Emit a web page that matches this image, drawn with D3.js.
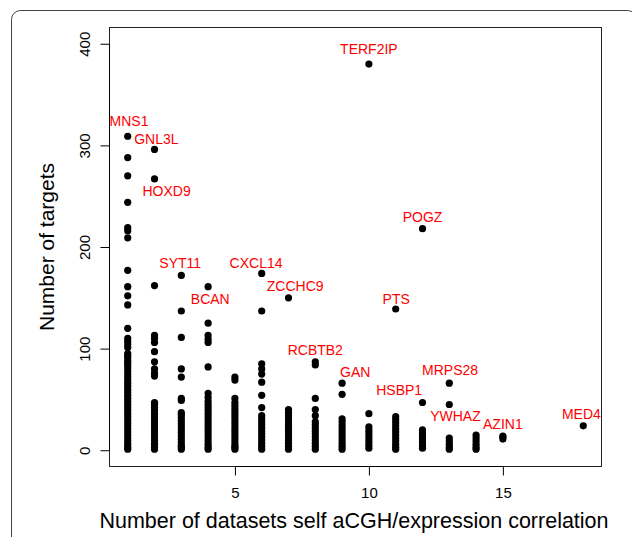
<!DOCTYPE html>
<html>
<head>
<meta charset="utf-8">
<script src="https://cdn.jsdelivr.net/npm/d3@7"></script>
<style>
  body { margin: 0; background: #fff; }
  svg { display: block; }
</style>
</head>
<body>
<svg id="chart" width="632" height="537"></svg>
<script>
// number of datasets with self aCGH/expression correlation (x columns)
var datasetCounts = [1, 2, 3, 4, 5, 6, 7, 8, 9, 10, 11, 12, 13, 14, 15, 18];

// number of targets per gene, one list for each column above
var targetCounts = [
    [309, 288, 270, 244, 219, 216, 209, 177, 161, 152, 143, 120, 110, 107, 104, 101,
     95, 93, 91, 88, 86, 84, 81, 78, 75, 72, 69, 66, 63, 60, 57, 54, 51, 48, 45, 42,
     39, 36, 33, 30, 27, 24, 21, 18, 15, 12, 9, 6, 3, 1],
    [296, 267, 162, 113, 110, 106, 97, 87, 80, 76, 73,
     47, 45, 42, 39, 36, 33, 30, 27, 24, 21, 18, 15, 12, 9, 6, 3, 1],
    [172, 137, 111, 80, 72, 51, 49,
     37, 35, 32, 29, 26, 23, 20, 17, 14, 11, 8, 5, 3, 1],
    [161, 125, 113, 109, 106, 82, 56, 52,
     48, 45, 42, 39, 36, 33, 30, 27, 24, 21, 18, 15, 12, 9, 6, 3, 1],
    [72, 69,
     51, 47, 44, 41, 38, 35, 32, 29, 26, 23, 20, 17, 14, 11, 8, 5, 3, 1],
    [174, 137, 85, 80, 75, 67, 54, 42,
     34, 31, 28, 25, 22, 19, 16, 13, 10, 7, 4, 1],
    [150,
     40, 37, 34, 31, 28, 25, 22, 19, 16, 13, 10, 7, 4, 1],
    [87, 84, 51, 40, 34,
     28, 25, 22, 19, 16, 13, 10, 7, 4, 1],
    [66, 55,
     31, 28, 25, 22, 19, 16, 13, 10, 7, 4, 1],
    [380, 36,
     23, 20, 17, 14, 11, 8, 5, 2],
    [139,
     33, 30, 27, 24, 21, 18, 15, 12, 9, 6, 3, 1],
    [218, 47,
     20, 17, 14, 11, 8, 5, 2],
    [66, 45,
     12, 9, 6, 3, 1],
    [15, 12, 9, 6, 3, 1],
    [14, 13, 11],
    [24]
];

// gene labels, placed in data units like text(x, y, label)
var geneNames = ["TERF2IP", "MNS1", "GNL3L", "HOXD9", "POGZ", "SYT11", "CXCL14", "ZCCHC9",
                 "BCAN", "PTS", "RCBTB2", "GAN", "MRPS28", "HSBP1", "YWHAZ", "AZIN1", "MED4"];
var geneLabelX = [10.0, 1.05, 2.07, 2.45, 12.0, 2.96, 5.79, 7.25,
                  4.08, 11.02, 8.0, 9.49, 13.03, 11.13, 13.23, 15.0, 17.93];
var geneLabelY = [395, 324, 306, 255, 230, 184, 184, 162,
                  149, 149, 99, 77, 79, 59, 34, 26, 36];

var xTicks = [5, 10, 15];
var yTicks = [0, 100, 200, 300, 400];

var svg = d3.select("#chart");
var font = "'Liberation Sans', Arial, Helvetica, sans-serif";

// plot region (R style, 4% padding on the x range)
var plotLeft = 109.5, plotRight = 601.5, plotTop = 27.5, plotBottom = 466.5;

var x = d3.scaleLinear()
    .domain([0.32, 18.68])
    .range([plotLeft, plotRight]);

var y = d3.scaleLinear()
    .domain([-16, 416])
    .range([plotBottom, plotTop]);

// outer rounded frame of the figure panel
svg.append("rect")
    .attr("x", 11.5)
    .attr("y", 10.5)
    .attr("width", 625)
    .attr("height", 600)
    .attr("rx", 9)
    .attr("fill", "none")
    .attr("stroke", "#444")
    .attr("stroke-width", 1);

// flatten the columns into points
var points = [];
datasetCounts.forEach(function(n, i) {
    targetCounts[i].forEach(function(t) {
        points.push({ n: n, t: t });
    });
});

svg.append("g")
    .selectAll("circle")
    .data(points)
    .enter()
    .append("circle")
    .attr("cx", function(d) { return x(d.n); })
    .attr("cy", function(d) { return y(d.t); })
    .attr("r", 3.6)
    .attr("fill", "black");

// plot box
svg.append("rect")
    .attr("x", plotLeft)
    .attr("y", plotTop)
    .attr("width", plotRight - plotLeft)
    .attr("height", plotBottom - plotTop)
    .attr("fill", "none")
    .attr("stroke", "#222")
    .attr("stroke-width", 1);

// x axis
var xAxis = svg.append("g")
    .attr("transform", "translate(0," + plotBottom + ")")
    .call(d3.axisBottom(x).tickValues(xTicks).tickSize(9).tickPadding(12));

xAxis.select(".domain").remove();
xAxis.append("line")
    .attr("x1", x(xTicks[0]))
    .attr("x2", x(xTicks[xTicks.length - 1]))
    .attr("stroke", "black");
xAxis.selectAll("text")
    .attr("font-size", "15px")
    .attr("font-family", font)
    .attr("fill", "black");

// y axis, labels turned like R's default
var yAxis = svg.append("g")
    .attr("transform", "translate(" + plotLeft + ",0)")
    .call(d3.axisLeft(y).tickValues(yTicks).tickSize(9));

yAxis.select(".domain").remove();
yAxis.append("line")
    .attr("y1", y(yTicks[0]))
    .attr("y2", y(yTicks[yTicks.length - 1]))
    .attr("stroke", "black");
yAxis.selectAll("text")
    .attr("x", null)
    .attr("dy", null)
    .attr("transform", "translate(-19.5,0) rotate(-90)")
    .attr("text-anchor", "middle")
    .attr("font-size", "15px")
    .attr("font-family", font)
    .attr("fill", "black");

// gene labels
svg.append("g")
    .selectAll("text")
    .data(geneNames)
    .enter()
    .append("text")
    .attr("x", function(d, i) { return x(geneLabelX[i]); })
    .attr("y", function(d, i) { return y(geneLabelY[i]); })
    .attr("dy", "0.36em")
    .attr("text-anchor", "middle")
    .attr("font-family", font)
    .attr("font-size", "14px")
    .attr("fill", "#ff0000")
    .text(function(d) { return d; });

// axis titles
svg.append("text")
    .attr("x", 354)
    .attr("y", 528)
    .attr("text-anchor", "middle")
    .attr("font-family", font)
    .attr("font-size", "21.5px")
    .text("Number of datasets self aCGH/expression correlation");

svg.append("text")
    .attr("transform", "translate(54," + y(200) + ") rotate(-90)")
    .attr("text-anchor", "middle")
    .attr("font-family", font)
    .attr("font-size", "21px")
    .text("Number of targets");
</script>
</body>
</html>
